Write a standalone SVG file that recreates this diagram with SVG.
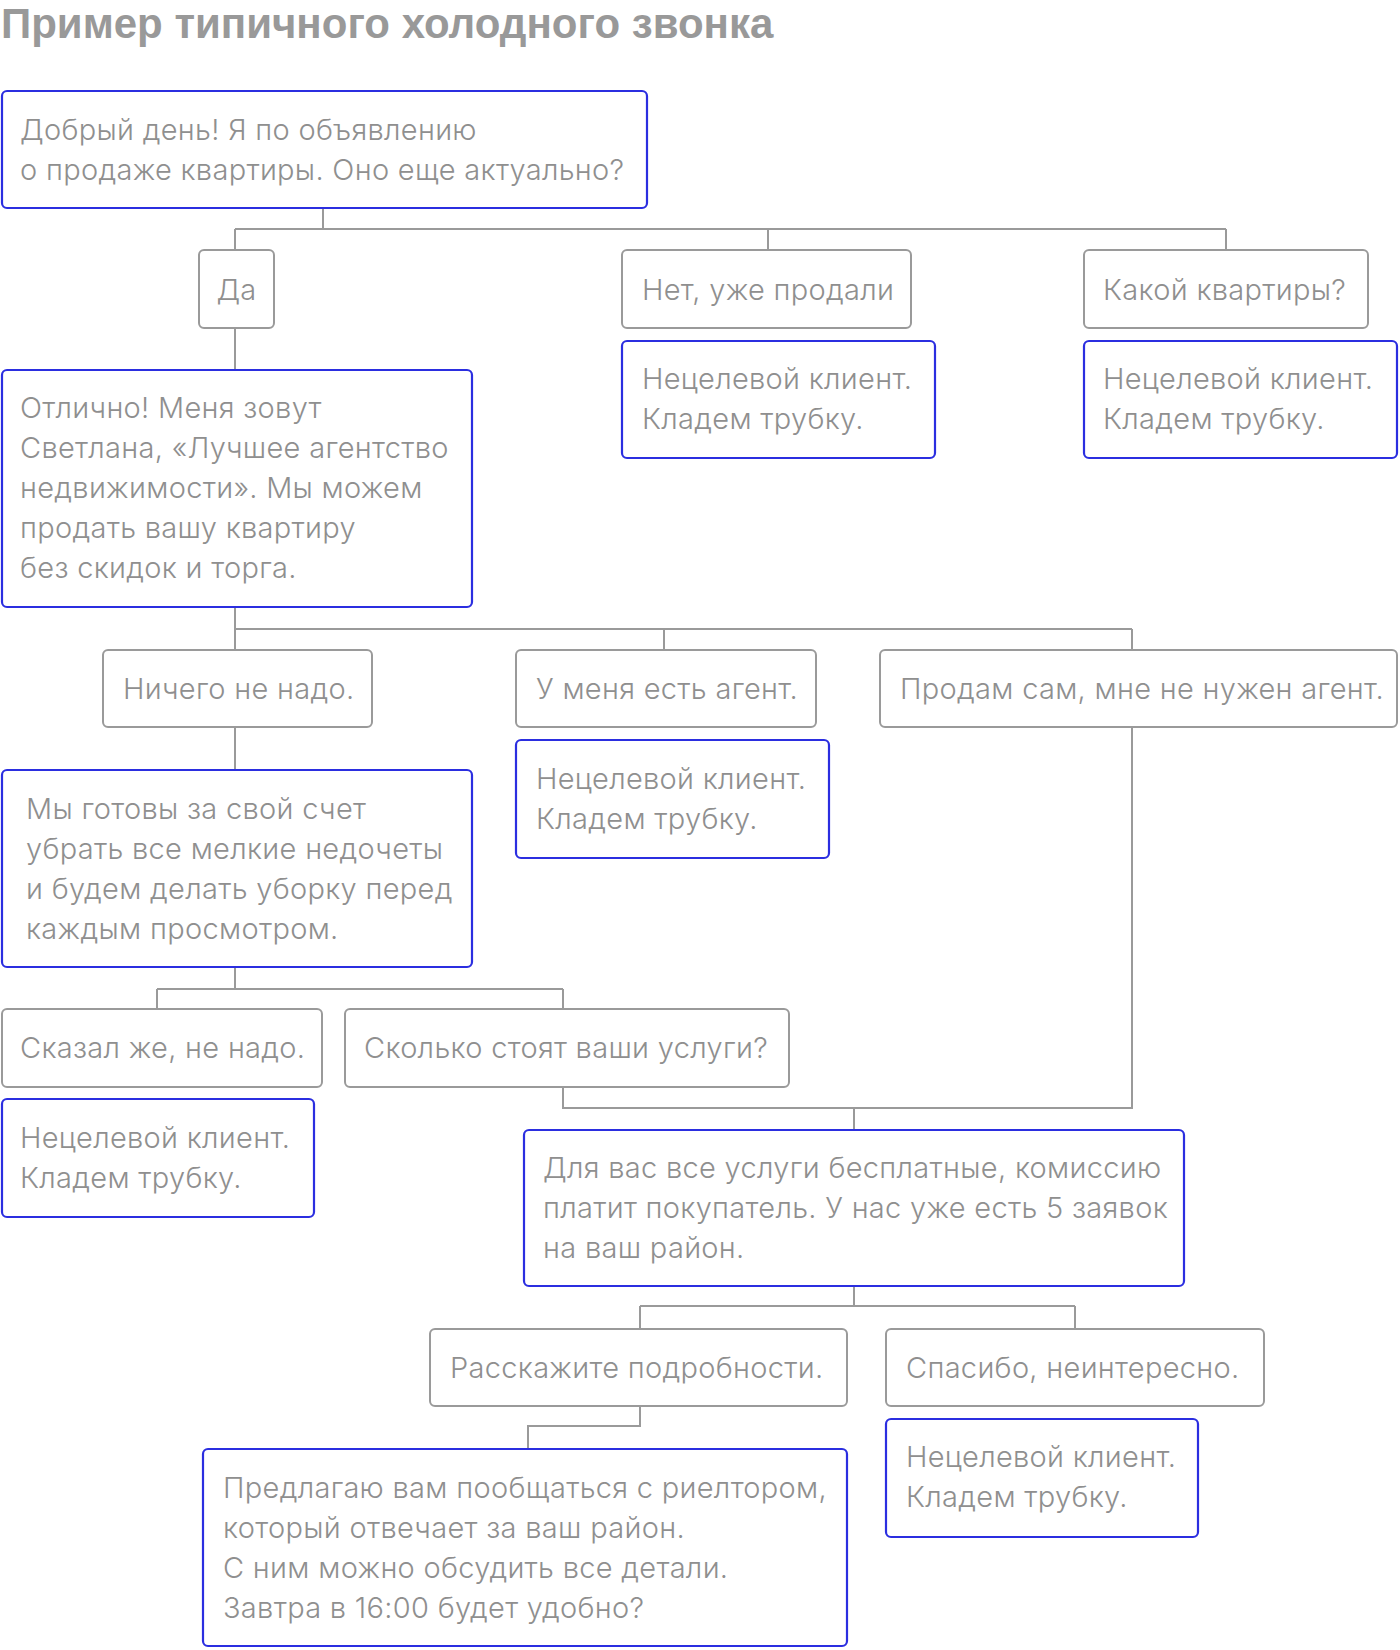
<svg xmlns="http://www.w3.org/2000/svg" width="1400" height="1650" viewBox="0 0 1400 1650">
<style>
.t{font-family:Inter,"Liberation Sans",Arial,sans-serif;font-size:29px;letter-spacing:0.3px;font-weight:300;fill:#8f8f8f}
.title{font-family:"Liberation Sans",Arial,sans-serif;font-size:42px;font-weight:bold;fill:#999999}
.g{fill:#ffffff;stroke:#9a9a9a;stroke-width:2}
.b{fill:#ffffff;stroke:#2b2ee0;stroke-width:2.2}
.c{fill:none;stroke:#9a9a9a;stroke-width:2}
</style>
<rect width="1400" height="1650" fill="#ffffff"/>
<text class="title" x="1" y="38">Пример типичного холодного звонка</text>
<g id="connectors">
<path class="c" d="M323 208V229M235 229H1226M235 229V250M768 229V250M1226 229V250"/>
<path class="c" d="M235 328V370"/>
<path class="c" d="M235 607V629M235 629H1132M235 629V650M664 629V650M1132 629V650"/>
<path class="c" d="M235 727V770"/>
<path class="c" d="M235 967V989M157 989H563M157 989V1009M563 989V1009"/>
<path class="c" d="M563 1087V1108H1132V727M854 1108V1130"/>
<path class="c" d="M854 1286V1306M640 1306H1075M640 1306V1329M1075 1306V1329"/>
<path class="c" d="M640 1406V1426H528V1449"/>
</g>
<g id="n1"><rect class="b" x="2" y="91" width="645" height="117" rx="5"/>
<text class="t" x="20"><tspan x="20" y="140">Добрый день! Я по объявлению</tspan><tspan x="20" y="180">о продаже квартиры. Оно еще актуально?</tspan></text></g>
<g id="n-da"><rect class="g" x="199" y="250" width="75" height="78" rx="5"/><text class="t" x="236.5" y="300" text-anchor="middle">Да</text></g>
<g id="n-net"><rect class="g" x="622" y="250" width="289" height="78" rx="5"/><text class="t" x="642" y="300">Нет, уже продали</text></g>
<g id="n-net-r"><rect class="b" x="622" y="341" width="313" height="117" rx="5"/><text class="t"><tspan x="642" y="389">Нецелевой клиент.</tspan><tspan x="642" y="429">Кладем трубку.</tspan></text></g>
<g id="n-kakoy"><rect class="g" x="1084" y="250" width="284" height="78" rx="5"/><text class="t" x="1103" y="300">Какой квартиры?</text></g>
<g id="n-kakoy-r"><rect class="b" x="1084" y="341" width="313" height="117" rx="5"/><text class="t"><tspan x="1103" y="389">Нецелевой клиент.</tspan><tspan x="1103" y="429">Кладем трубку.</tspan></text></g>
<g id="n2"><rect class="b" x="2" y="370" width="470" height="237" rx="5"/>
<text class="t"><tspan x="20" y="418">Отлично! Меня зовут</tspan><tspan x="20" y="458">Светлана, «Лучшее агентство</tspan><tspan x="20" y="498">недвижимости». Мы можем</tspan><tspan x="20" y="538">продать вашу квартиру</tspan><tspan x="20" y="578">без скидок и торга.</tspan></text></g>
<g id="n-nichego"><rect class="g" x="103" y="650" width="269" height="77" rx="5"/><text class="t" x="123" y="699">Ничего не надо.</text></g>
<g id="n-agent"><rect class="g" x="516" y="650" width="300" height="77" rx="5"/><text class="t" x="536" y="699">У меня есть агент.</text></g>
<g id="n-agent-r"><rect class="b" x="516" y="740" width="313" height="118" rx="5"/><text class="t"><tspan x="536" y="789">Нецелевой клиент.</tspan><tspan x="536" y="829">Кладем трубку.</tspan></text></g>
<g id="n-sam"><rect class="g" x="880" y="650" width="517" height="77" rx="5"/><text class="t" x="900" y="699">Продам сам, мне не нужен агент.</text></g>
<g id="n3"><rect class="b" x="2" y="770" width="470" height="197" rx="5"/>
<text class="t"><tspan x="26" y="819">Мы готовы за свой счет</tspan><tspan x="26" y="859">убрать все мелкие недочеты</tspan><tspan x="26" y="899">и будем делать уборку перед</tspan><tspan x="26" y="939">каждым просмотром.</tspan></text></g>
<g id="n-skazal"><rect class="g" x="2" y="1009" width="320" height="78" rx="5"/><text class="t" x="20" y="1058">Сказал же, не надо.</text></g>
<g id="n-skazal-r"><rect class="b" x="2" y="1099" width="312" height="118" rx="5"/><text class="t"><tspan x="20" y="1148">Нецелевой клиент.</tspan><tspan x="20" y="1188">Кладем трубку.</tspan></text></g>
<g id="n-skolko"><rect class="g" x="345" y="1009" width="444" height="78" rx="5"/><text class="t" x="364" y="1058">Сколько стоят ваши услуги?</text></g>
<g id="n4"><rect class="b" x="524" y="1130" width="660" height="156" rx="5"/>
<text class="t"><tspan x="543" y="1178">Для вас все услуги бесплатные, комиссию</tspan><tspan x="543" y="1218">платит покупатель. У нас уже есть 5 заявок</tspan><tspan x="543" y="1258">на ваш район.</tspan></text></g>
<g id="n-rasskazhite"><rect class="g" x="430" y="1329" width="417" height="77" rx="5"/><text class="t" x="450" y="1378">Расскажите подробности.</text></g>
<g id="n-spasibo"><rect class="g" x="886" y="1329" width="378" height="77" rx="5"/><text class="t" x="906" y="1378">Спасибо, неинтересно.</text></g>
<g id="n-spasibo-r"><rect class="b" x="886" y="1419" width="312" height="118" rx="5"/><text class="t"><tspan x="906" y="1467">Нецелевой клиент.</tspan><tspan x="906" y="1507">Кладем трубку.</tspan></text></g>
<g id="n5"><rect class="b" x="203" y="1449" width="644" height="197" rx="5"/>
<text class="t"><tspan x="223" y="1498">Предлагаю вам пообщаться с риелтором,</tspan><tspan x="223" y="1538">который отвечает за ваш район.</tspan><tspan x="223" y="1578">С ним можно обсудить все детали.</tspan><tspan x="223" y="1618">Завтра в 16:00 будет удобно?</tspan></text></g>
</svg>
